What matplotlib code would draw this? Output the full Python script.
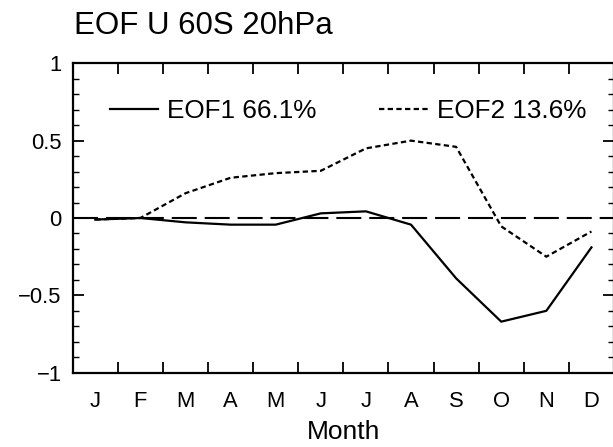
import numpy as np
import matplotlib
matplotlib.use("Agg")
import matplotlib.pyplot as plt
from matplotlib.ticker import MultipleLocator, FixedLocator, NullFormatter

months = ["J", "F", "M", "A", "M", "J", "J", "A", "S", "O", "N", "D"]
eof1 = [-0.01, 0.0, -0.028, -0.043, -0.043, 0.03, 0.043, -0.043, -0.39, -0.67, -0.60, -0.19]
eof2 = [-0.01, 0.0, 0.16, 0.26, 0.29, 0.305, 0.45, 0.50, 0.46, -0.054, -0.25, -0.087]
label1 = "EOF1 66.1%"
label2 = "EOF2 13.6%"
title = "EOF U 60S 20hPa"
xlabel = "Month"
yticks = [-1, -0.5, 0, 0.5, 1]
ytick_labels = ["\u22121", "\u22120.5", "0", "0.5", "1"]

plt.rcParams['font.family'] = ['Liberation Sans', 'DejaVu Sans']

W, H = 613, 447
fig = plt.figure(figsize=(W / 100, H / 100), dpi=100)
left, right, top, bottom = 72.7, 614.0, 63.3, 372.7
ax = fig.add_axes([left / W, 1 - bottom / H, (right - left) / W, (bottom - top) / H])

x = np.arange(1, len(months) + 1)
ax.axhline(0, color='black', lw=1.5, dashes=(12, 3.8))
ax.plot(x, eof1, color='black', lw=1.6, label=label1)
ax.plot(x, eof2, color='black', lw=1.6, dashes=(2.4, 1.5), label=label2)

ax.set_xlim(0.5, 12.5)
ax.set_ylim(-1, 1)

# x: tick marks at month boundaries, labels at month centres
ax.xaxis.set_major_locator(FixedLocator(np.arange(1.5, 12.5, 1.0)))
ax.xaxis.set_major_formatter(NullFormatter())
ax.xaxis.set_minor_locator(FixedLocator(x))
ax.set_xticks(x, months, minor=True)
ax.tick_params(axis='x', which='major', direction='in', length=8, width=1.3,
               top=True, bottom=True)
ax.tick_params(axis='x', which='minor', length=0, pad=13, labelsize=15.8)

ax.set_yticks(yticks, ytick_labels)
ax.yaxis.set_minor_locator(MultipleLocator(0.1))
ax.tick_params(axis='y', which='major', direction='in', length=8, width=1.3,
               left=True, right=True, pad=8, labelsize=15.8)
ax.tick_params(axis='y', which='minor', direction='in', length=4, width=1.0,
               left=True, right=True)

for s in ax.spines.values():
    s.set_linewidth(1.6)

ax.set_xlabel(xlabel, fontsize=19, labelpad=6)

fig.text(74 / W, 1 - 26 / H, title, fontsize=22.5, ha='left', va='center')

leg = ax.legend(loc='center left',
                bbox_to_anchor=((110 - left) / (right - left), (bottom - 111) / (bottom - top)),
                ncol=2, frameon=False, fontsize=18.8, handlelength=1.85,
                handletextpad=0.35, columnspacing=2.4, borderpad=0, borderaxespad=0)

fig.savefig("out.png", dpi=100)
